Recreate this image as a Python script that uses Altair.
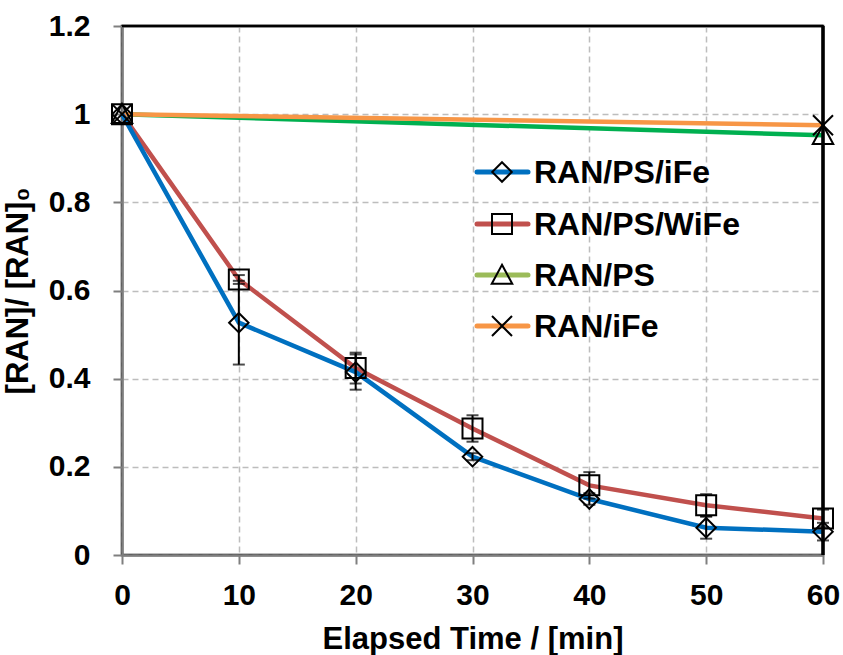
import altair as alt
import pandas as pd

# ---- data ----
times = [0, 10, 20, 30, 40, 50, 60]
ps_ife = [1.0, 0.527, 0.415, 0.223, 0.127, 0.062, 0.053]
ps_ife_err = [0.0, 0.095, 0.04, 0.008, 0.013, 0.025, 0.02]
ps_wife = [1.0, 0.625, 0.424, 0.287, 0.158, 0.113, 0.083]
ps_wife_err = [0.0, 0.01, 0.035, 0.03, 0.03, 0.025, 0.02]
ps_times = [0, 60]
ps_vals = [1.0, 0.952]
ife_times = [0, 60]
ife_vals = [1.0, 0.975]
y_ticks = [0, 0.2, 0.4, 0.6, 0.8, 1, 1.2]

series_names = ["RAN/PS/iFe", "RAN/PS/WiFe", "RAN/PS", "RAN/iFe"]
line_colors = ["#0070C0", "#C0504D", "#00B050", "#F79646"]
legend_colors = ["#0070C0", "#C0504D", "#9BBB59", "#F79646"]

DIAMOND = "M0,-1L1,0L0,1L-1,0Z"
SQUARE = "M-1,-1L1,-1L1,1L-1,1Z"
TRIANGLE = "M0,-1L1,0.85L-1,0.85Z"
XSHAPE = "M-1,-1L1,1M-1,1L1,-1"
shapes = [DIAMOND, SQUARE, TRIANGLE, XSHAPE]
sizes = [380, 400, 420, 400]

FONT = "Liberation Sans"

rows = []
for t, v, e in zip(times, ps_ife, ps_ife_err):
    rows.append(dict(series=series_names[0], t=t, v=v, lo=v - e, hi=v + e, err=e))
for t, v, e in zip(times, ps_wife, ps_wife_err):
    rows.append(dict(series=series_names[1], t=t, v=v, lo=v - e, hi=v + e, err=e))
for t, v in zip(ps_times, ps_vals):
    rows.append(dict(series=series_names[2], t=t, v=v, lo=v, hi=v, err=0.0))
for t, v in zip(ife_times, ife_vals):
    rows.append(dict(series=series_names[3], t=t, v=v, lo=v, hi=v, err=0.0))
df = pd.DataFrame(rows)

xscale = alt.Scale(domain=[0, 60], nice=False, zero=False)
yscale = alt.Scale(domain=[0, 1.2], nice=False)

X = alt.X("t:Q", scale=xscale,
          axis=alt.Axis(values=times, title="Elapsed Time / [min]", format="d"))
Y = alt.Y("v:Q", scale=yscale,
          axis=alt.Axis(values=y_ticks, format=".1~f", labelOverlap=False,
                        title="[RAN]/ [RAN]₀"))

layers = []
draw_order = [2, 3, 1, 0]
for i in draw_order:
    d = df[df.series == series_names[i]]
    layers.append(
        alt.Chart(d).mark_line(color=line_colors[i], strokeWidth=4.5).encode(x=X, y=Y)
    )

# black frame on top and right (over the grid)
frame = pd.DataFrame({"t": [max(times)], "v": [max(y_ticks)]})
layers.append(
    alt.Chart(frame).mark_rule(color="black", strokeWidth=3.5).encode(x="t:Q")
)
layers.append(
    alt.Chart(frame).mark_rule(color="black", strokeWidth=2.5).encode(y="v:Q")
)

# error bars
eb = df[df.err > 0]
layers.append(
    alt.Chart(eb).mark_rule(color="black", strokeWidth=2).encode(
        x="t:Q", y=alt.Y("lo:Q", scale=yscale), y2="hi:Q")
)
layers.append(
    alt.Chart(eb).mark_tick(color="black", thickness=2, size=12, orient="horizontal").encode(
        x="t:Q", y=alt.Y("lo:Q", scale=yscale))
)
layers.append(
    alt.Chart(eb).mark_tick(color="black", thickness=2, size=12, orient="horizontal").encode(
        x="t:Q", y=alt.Y("hi:Q", scale=yscale))
)

# markers
for i in range(4):
    d = df[df.series == series_names[i]]
    layers.append(
        alt.Chart(d).mark_point(shape=shapes[i], size=sizes[i], filled=False,
                                stroke="black", strokeWidth=2, opacity=1).encode(x="t:Q", y="v:Q")
    )

# manual legend (positions in pixels inside the plot area)
leg_y = [146, 198, 249, 300]
for i in range(4):
    one = pd.DataFrame({"label": [series_names[i]]})
    layers.append(
        alt.Chart(one).mark_rule(color=legend_colors[i], strokeWidth=5, strokeCap="round").encode(
            x=alt.value(355), x2=alt.value(406), y=alt.value(leg_y[i]))
    )
    layers.append(
        alt.Chart(one).mark_point(shape=shapes[i], size=sizes[i], filled=False,
                                  stroke="black", strokeWidth=2, opacity=1).encode(
            x=alt.value(380), y=alt.value(leg_y[i]))
    )
    layers.append(
        alt.Chart(one).mark_text(align="left", baseline="middle", font=FONT, fontSize=32,
                                 fontWeight="bold", color="black").encode(
            x=alt.value(412), y=alt.value(leg_y[i] + 1), text="label:N")
    )

chart = alt.layer(*layers).properties(
    width=701, height=529,
    background="white",
    autosize=alt.AutoSizeParams(type="none"),
    padding={"left": 122, "top": 26, "right": 20, "bottom": 100},
).configure_view(
    stroke="black", strokeWidth=2.5
).configure_axis(
    labelFont=FONT, labelFontSize=30, labelFontWeight="bold", labelColor="black",
    titleFont=FONT, titleFontSize=31, titleFontWeight="bold", titleColor="black",
    grid=True, gridColor="#BDBDBD", gridDash=[6, 4], gridWidth=1.5,
    domainColor="#7F7F7F", domainWidth=2.5, tickColor="#7F7F7F", tickWidth=2, tickSize=9,
).configure_axisX(
    labelPadding=16, titlePadding=14, labelFlush=False,
).configure_axisY(
    labelPadding=23, titlePadding=14,
)

chart.save("out.html", embed_options={"renderer": "svg", "actions": False})
